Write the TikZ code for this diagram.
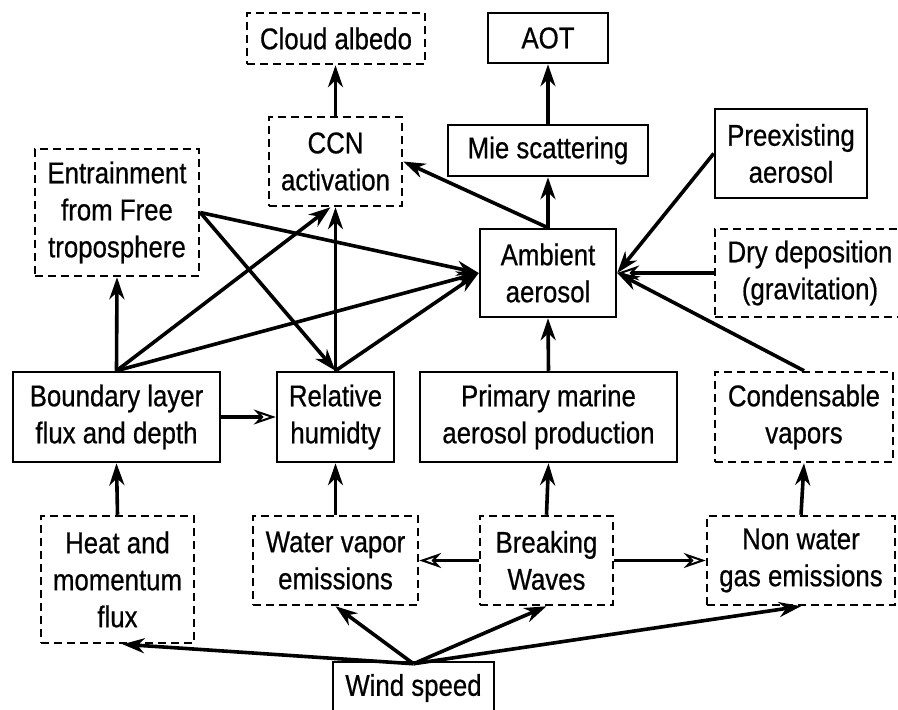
\documentclass[tikz,border=0pt]{standalone}
\usepackage{fontspec}
\setmainfont{Liberation Sans}[FakeStretch=0.86,FakeBold=0.6]
\usetikzlibrary{arrows.meta,calc}
\tikzset{
 box/.style={draw, line width=2.5pt, inner sep=0pt, align=center, font=\fontsize{30}{37}\selectfont},
 dbox/.style={box, dash pattern=on 8pt off 5pt},
 arr/.style={line width=3.6pt, -{Stealth[length=22pt,width=15pt,inset=7pt]}},
 oarr/.style={line width=3.6pt, -{Stealth[open,length=22pt,width=15pt,inset=7pt,line width'=2pt]}},
}
\begin{document}
\begin{tikzpicture}[x=1pt,y=-1pt]
\useasboundingbox (0,0) rectangle (898,710);
\clip (0,0) rectangle (898,710);
\fill[white] (0,0) rectangle (898,710);
\node[dbox, minimum width=178pt, minimum height=51pt] (cloud) at (336,38.5) {Cloud albedo};
\node[dbox, minimum width=133pt, minimum height=89pt] (ccn) at (335.5,161.5) {CCN\\activation};
\node[dbox, minimum width=164pt, minimum height=127pt] (entr) at (117,212.5) {Entrainment\\from Free\\troposphere};
\node[box, minimum width=120pt, minimum height=50pt] (aot) at (548,38) {AOT};
\node[box, minimum width=200pt, minimum height=51pt] (mie) at (548,150.5) {Mie scattering};
\node[box, minimum width=152pt, minimum height=89pt] (pre) at (791,153.5) {Preexisting\\aerosol};
\node[box, minimum width=136pt, minimum height=88pt] (amb) at (548,273) {Ambient\\aerosol};
\node[dbox, minimum width=190pt, minimum height=88pt] (dry) at (810,273) {Dry deposition\\(gravitation)};
\node[box, minimum width=207pt, minimum height=90pt] (bl) at (116.5,417) {Boundary layer\\flux and depth};
\node[box, minimum width=117pt, minimum height=90pt] (rh) at (335.5,417) {Relative\\humidty};
\node[box, minimum width=257pt, minimum height=90pt] (pm) at (548.5,417) {Primary marine\\aerosol production};
\node[dbox, minimum width=178pt, minimum height=90pt] (cond) at (804,417) {Condensable\\vapors};
\node[dbox, minimum width=153pt, minimum height=127pt] (heat) at (117.5,579.5) {Heat and\\momentum\\flux};
\node[dbox, minimum width=165pt, minimum height=89pt] (wv) at (335.5,560.5) {Water vapor\\emissions};
\node[dbox, minimum width=133pt, minimum height=89pt] (bw) at (546.5,560.5) {Breaking\\Waves};
\node[dbox, minimum width=188pt, minimum height=89pt] (nw) at (801,560.5) {Non water\\gas emissions};
\node[box, minimum width=161pt, minimum height=52pt] (wind) at (413.5,688) {Wind speed};
% arrows
\draw[arr] (ccn.north) -- (cloud.south -| ccn.north);
\draw[arr] (mie.north) -- (aot.south);
\draw[arr] (amb.north) -- (mie.south);
\draw[arr] (amb.north) -- (ccn.east);
\draw[arr] (pre.west) -- (amb.east);
\draw[oarr] (dry.west) -- (amb.east);
\draw[arr] (cond.north) -- (amb.east);
\draw[arr] (pm.north) -- (amb.south);
\draw[arr] (entr.east) -- (amb.west);
\draw[arr] (entr.east) -- (rh.north);
\draw[arr] (bl.north) -- (entr.south);
\draw[arr] (bl.north) -- ([xshift=-5pt]ccn.south);
\draw[arr] (bl.north) -- (amb.west);
\draw[arr] (rh.north) -- (ccn.south);
\draw[arr] (rh.north) -- (amb.west);
\draw[oarr] (bl.east) -- (rh.west);
\draw[arr] (heat.north) -- (bl.south);
\draw[arr] (wv.north) -- (rh.south);
\draw[arr] (bw.north) -- (pm.south);
\draw[arr] (nw.north) -- (cond.south);
\draw[oarr] (bw.west) -- (wv.east);
\draw[oarr] (bw.east) -- (nw.west);
\draw[arr] ([yshift=-3pt]wind.north) -- ([xshift=5pt]heat.south);
\draw[arr] ([yshift=-3pt]wind.north) -- (wv.south);
\draw[arr] ([yshift=-3pt]wind.north) -- (bw.south);
\draw[arr] ([yshift=-3pt]wind.north) -- (nw.south);
\end{tikzpicture}
\end{document}
